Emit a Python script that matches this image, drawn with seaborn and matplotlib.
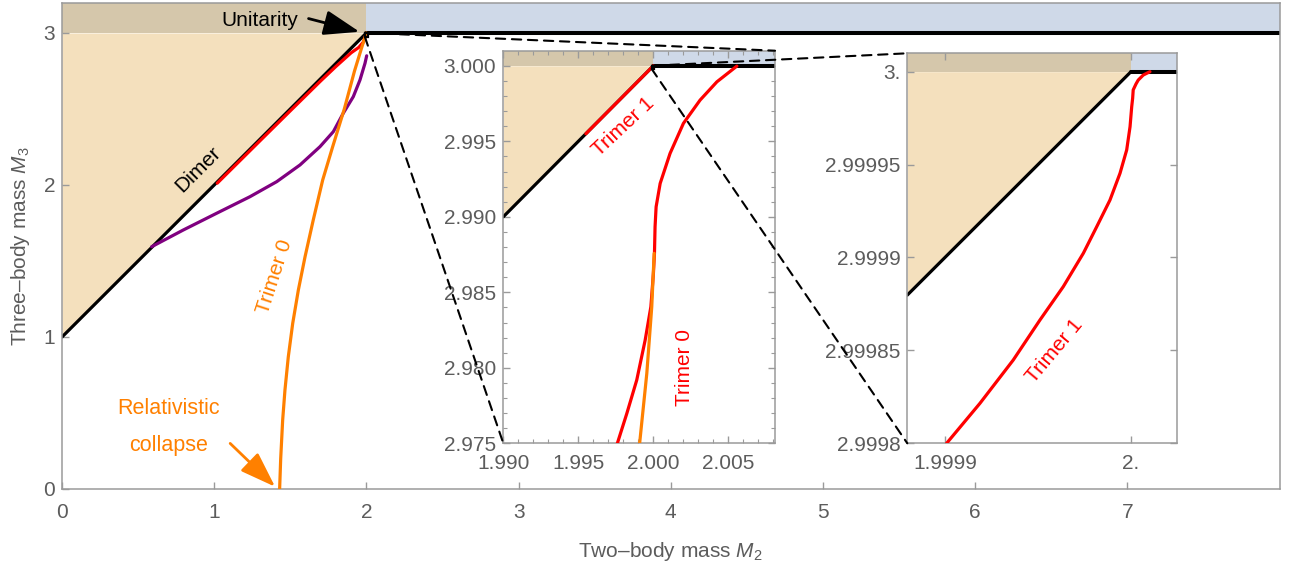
import numpy as np
import matplotlib
matplotlib.use("Agg")
import matplotlib.pyplot as plt
import seaborn as sns
from matplotlib.patches import Rectangle, ConnectionPatch

# ---------------------------------------------------------------- data
# thresholds (units of the constituent mass)
M2_THRESHOLD = 2.0
M3_UNITARITY = 3.0

# main panel
main_xlim = (0.0, 8.0)
main_ylim = (0.0, 3.2)
main_xticks = [0, 1, 2, 3, 4, 5, 6, 7]
main_xticklabels = ["0", "1", "2", "3", "4", "5", "6", "7"]
main_yticks = [0, 1, 2, 3]
main_yticklabels = ["0", "1", "2", "3"]

main_dimer_m2 = [0.0, 2.0]
main_dimer_m3 = [1.0, 3.0]
main_unit_m2 = [2.0, 8.0]

main_trimer1_m2 = [1.02, 1.30, 1.50, 1.70, 1.80, 1.90, 1.95, 1.98, 2.00]
main_trimer1_m3 = [2.012, 2.290, 2.488, 2.685, 2.780, 2.870, 2.905, 2.940, 2.995]

main_purple_m2 = [0.589, 0.797, 1.016, 1.235, 1.411, 1.564, 1.695, 1.783, 1.848, 1.914, 1.958, 1.991, 2.002]
main_purple_m3 = [1.594, 1.704, 1.814, 1.923, 2.022, 2.132, 2.252, 2.351, 2.472, 2.581, 2.691, 2.801, 2.850]

main_trimer0_m2 = [1.430, 1.437, 1.450, 1.465, 1.487, 1.516, 1.553, 1.597, 1.651, 1.713,
                   1.778, 1.855, 1.922, 1.968, 2.000]
main_trimer0_m3 = [0.000, 0.200, 0.454, 0.651, 0.870, 1.090, 1.309, 1.528, 1.770, 2.033,
                   2.250, 2.500, 2.750, 2.900, 3.000]

# first zoom (around the threshold)
z1_xlim = (1.990, 2.0081)
z1_ylim = (2.975, 3.001)
z1_xticks = [1.990, 1.995, 2.000, 2.005]
z1_xticklabels = ["1.990", "1.995", "2.000", "2.005"]
z1_yticks = [2.975, 2.980, 2.985, 2.990, 2.995, 3.000]
z1_yticklabels = ["2.975", "2.980", "2.985", "2.990", "2.995", "3.000"]

z1_dimer_m2 = [1.990, 2.000]
z1_dimer_m3 = [2.990, 3.000]
z1_unit_m2 = [2.000, 2.0081]

z1_trimer1_m2 = [1.9955, 2.0000]
z1_trimer1_m3 = [2.9955, 3.0000]

z1_red_m2 = [1.99756, 1.99823, 1.99889, 1.99945, 1.99983, 2.00000, 2.00007, 2.00011, 2.00018,
             2.00045, 2.00111, 2.00200, 2.00311, 2.00423, 2.00556]
z1_red_m3 = [2.97488, 2.97698, 2.97919, 2.98183, 2.98404, 2.98625, 2.98758, 2.98934, 2.99066,
             2.99221, 2.99420, 2.99619, 2.99773, 2.99894, 2.99998]

z1_trimer0_m2 = [1.99907, 1.99956, 1.99989, 2.00005]
z1_trimer0_m3 = [2.97488, 2.97963, 2.98404, 2.98758]

# second zoom (very close to the threshold)
z2_xlim = (1.99987977, 2.0000249)
z2_ylim = (2.9998, 3.0000099)
z2_xticks = [1.9999, 2.0]
z2_xticklabels = ["1.9999", "2."]
z2_yticks = [2.9998, 2.99985, 2.9999, 2.99995, 3.0]
z2_yticklabels = ["2.9998", "2.99985", "2.9999", "2.99995", "3."]

z2_dimer_m2 = [1.99987977, 2.0]
z2_dimer_m3 = [2.99987977, 3.0]
z2_unit_m2 = [2.0, 2.0000249]

z2_trimer1_m2 = [1.9999009, 1.9999188, 1.9999367, 1.9999511, 1.9999636, 1.9999744, 1.9999816,
                 1.9999887, 1.9999941, 1.9999977, 1.9999995, 2.0000004, 2.0000009, 2.0000012,
                 2.0000027, 2.0000039, 2.0000066, 2.0000102]
z2_trimer1_m3 = [2.9998000, 2.9998215, 2.9998448, 2.9998664, 2.9998843, 2.9999023, 2.9999166,
                 2.9999309, 2.9999453, 2.9999579, 2.9999704, 2.9999812, 2.9999857, 2.9999902,
                 2.9999934, 2.9999955, 2.9999982, 3.0000000]

# ---------------------------------------------------------------- style
sns.set_theme(style="white")
plt.rcParams["font.family"] = ["Liberation Sans", "DejaVu Sans"]
plt.rcParams["mathtext.fontset"] = "custom"
plt.rcParams["mathtext.rm"] = "Liberation Sans"
plt.rcParams["mathtext.it"] = "Liberation Sans:italic"

TAN = "#F4E0BD"
OVERLAP = "#D5C7AB"
BLUE = "#CFD9E8"
RED = "#FF0000"
ORANGE = "#FF8000"
PURPLE = "#800080"
FRAME = "#9a9a9a"
LABEL = "#5c5c5c"
FS = 15
LW = 2.3

fig = plt.figure(figsize=(12.94, 5.68), dpi=100)
W, H = 1294, 568


def px_axes(left, top, right, bottom):
    return fig.add_axes([left / W, 1 - bottom / H, (right - left) / W, (bottom - top) / H])


ax = px_axes(62, 2.6, 1279.5, 489)
ax1 = px_axes(503.3, 50.7, 775, 443.3)
ax2 = px_axes(907.3, 53.3, 1177.3, 443.3)


def regions(a, dimer_m2, dimer_m3, unit_m2, ylim):
    a.fill_between(dimer_m2, dimer_m3, M3_UNITARITY, color=TAN, lw=0, zorder=0)
    a.fill_between([dimer_m2[0], M2_THRESHOLD], M3_UNITARITY, ylim[1], color=OVERLAP, lw=0, zorder=0)
    a.fill_between(unit_m2, M3_UNITARITY, ylim[1], color=BLUE, lw=0, zorder=0)
    sns.lineplot(x=dimer_m2, y=dimer_m3, ax=a, color="black", lw=LW, sort=False, estimator=None, zorder=2)
    sns.lineplot(x=unit_m2, y=[M3_UNITARITY] * 2, ax=a, color="black", lw=LW + 0.6,
                 sort=False, estimator=None, zorder=2)


def curve(a, xs, ys, color, z=3):
    sns.lineplot(x=xs, y=ys, ax=a, color=color, lw=LW, sort=False, estimator=None, zorder=z)


def frame(a, xlim, ylim, xt, xtl, yt, ytl, xpad, ypad, minor=None, mirror=False):
    a.set_xlim(*xlim)
    a.set_ylim(*ylim)
    a.set_xticks(xt)
    a.set_xticklabels(xtl)
    a.set_yticks(yt)
    a.set_yticklabels(ytl)
    if minor is not None:
        a.set_xticks(minor[0], minor=True)
        a.set_yticks(minor[1], minor=True)
    for s in a.spines.values():
        s.set_color(FRAME)
        s.set_linewidth(1.1)
        s.set_visible(True)
    a.tick_params(which="major", direction="in", length=5, width=1, color=FRAME,
                  labelcolor=LABEL, labelsize=FS, top=mirror, right=mirror, bottom=True, left=True)
    a.tick_params(which="minor", direction="in", length=3, width=0.8, color=FRAME,
                  top=mirror, right=mirror, bottom=True, left=True)
    a.tick_params(axis="x", pad=xpad)
    a.tick_params(axis="y", pad=ypad)
    a.set_facecolor("white")
    a.grid(False)
    a.set_xlabel("")
    a.set_ylabel("")


# ---------------------------------------------------------------- main panel
regions(ax, main_dimer_m2, main_dimer_m3, main_unit_m2, main_ylim)
curve(ax, main_trimer1_m2, main_trimer1_m3, RED)
curve(ax, main_purple_m2, main_purple_m3, PURPLE)
curve(ax, main_trimer0_m2, main_trimer0_m3, ORANGE, z=4)
ax.add_patch(Rectangle((z1_xlim[0], z1_ylim[0]), z1_xlim[1] - z1_xlim[0], z1_ylim[1] - z1_ylim[0],
                       fill=False, ec="black", lw=1.6, zorder=6))
frame(ax, main_xlim, main_ylim, main_xticks, main_xticklabels, main_yticks, main_yticklabels, 10, 5)
ax.set_xlabel("Two\u2013body mass $M_2$", fontsize=FS, color=LABEL, labelpad=13)
ax.set_ylabel("Three\u2013body mass $M_3$", fontsize=FS, color=LABEL, labelpad=8)

ax.text(0.895, 2.10, "Dimer", rotation=45, ha="center", va="center", fontsize=FS, color="black",
        rotation_mode="anchor")
ax.text(1.40, 1.395, "Trimer 0", rotation=72, ha="center", va="center", fontsize=FS, color=ORANGE,
        rotation_mode="anchor")
ax.text(0.70, 0.53, "Relativistic", ha="center", va="center", fontsize=FS + 0.5, color=ORANGE)
ax.text(0.70, 0.285, "collapse", ha="center", va="center", fontsize=FS + 0.5, color=ORANGE)
ax.annotate("", xy=(1.40, 0.015), xytext=(1.105, 0.30),
            arrowprops=dict(arrowstyle="-|>,head_length=1.0,head_width=0.35", mutation_scale=22,
                            color=ORANGE, lw=2, shrinkA=0, shrinkB=0))
ax.text(1.30, 3.08, "Unitarity", ha="center", va="center", fontsize=FS, color="black")
ax.annotate("", xy=(1.955, 3.008), xytext=(1.62, 3.095),
            arrowprops=dict(arrowstyle="-|>,head_length=1.0,head_width=0.35", mutation_scale=22,
                            color="black", lw=2, shrinkA=0, shrinkB=0))

# ---------------------------------------------------------------- first zoom
regions(ax1, z1_dimer_m2, z1_dimer_m3, z1_unit_m2, z1_ylim)
curve(ax1, z1_red_m2, z1_red_m3, RED)
curve(ax1, z1_trimer0_m2, z1_trimer0_m3, ORANGE, z=4)
curve(ax1, z1_trimer1_m2, z1_trimer1_m3, RED, z=4)
ax1.add_patch(Rectangle((z2_xlim[0], z2_ylim[0]), z2_xlim[1] - z2_xlim[0], z2_ylim[1] - z2_ylim[0],
                        fill=False, ec="black", lw=1.6, zorder=6))
frame(ax1, z1_xlim, z1_ylim, z1_xticks, z1_xticklabels, z1_yticks, z1_yticklabels, 8, 5,
      minor=(np.arange(1.990, 2.0085, 0.001), np.arange(2.975, 3.0005, 0.001)), mirror=True)
ax1.text(1.99798, 2.99594, "Trimer 1", rotation=43, ha="center", va="center", fontsize=FS, color=RED,
         rotation_mode="anchor")
ax1.text(2.00205, 2.98001, "Trimer 0", rotation=90, ha="center", va="center", fontsize=FS, color=RED,
         rotation_mode="anchor")

# ---------------------------------------------------------------- second zoom
regions(ax2, z2_dimer_m2, z2_dimer_m3, z2_unit_m2, z2_ylim)
curve(ax2, z2_trimer1_m2, z2_trimer1_m3, RED)
frame(ax2, z2_xlim, z2_ylim, z2_xticks, z2_xticklabels, z2_yticks, z2_yticklabels, 8, 5, mirror=True)
ax2.text(1.9999591, 2.9998497, "Trimer 1", rotation=50, ha="center", va="center", fontsize=FS, color=RED,
         rotation_mode="anchor")

# ---------------------------------------------------------------- zoom guides
dash = dict(color="black", lw=1.5, linestyle=(0, (4.5, 3.2)), zorder=10)
for xyA, xyB in [((z1_xlim[1], z1_ylim[1]), (1, 1)), ((z1_xlim[0], z1_ylim[0]), (0, 0))]:
    fig.add_artist(ConnectionPatch(xyA=xyA, coordsA=ax.transData, xyB=xyB, coordsB=ax1.transAxes, **dash))
for xyA, xyB in [((z2_xlim[1], z2_ylim[1]), (0, 1)), ((z2_xlim[0], z2_ylim[0]), (0, 0))]:
    fig.add_artist(ConnectionPatch(xyA=xyA, coordsA=ax1.transData, xyB=xyB, coordsB=ax2.transAxes, **dash))

fig.savefig("out.png", dpi=100)
